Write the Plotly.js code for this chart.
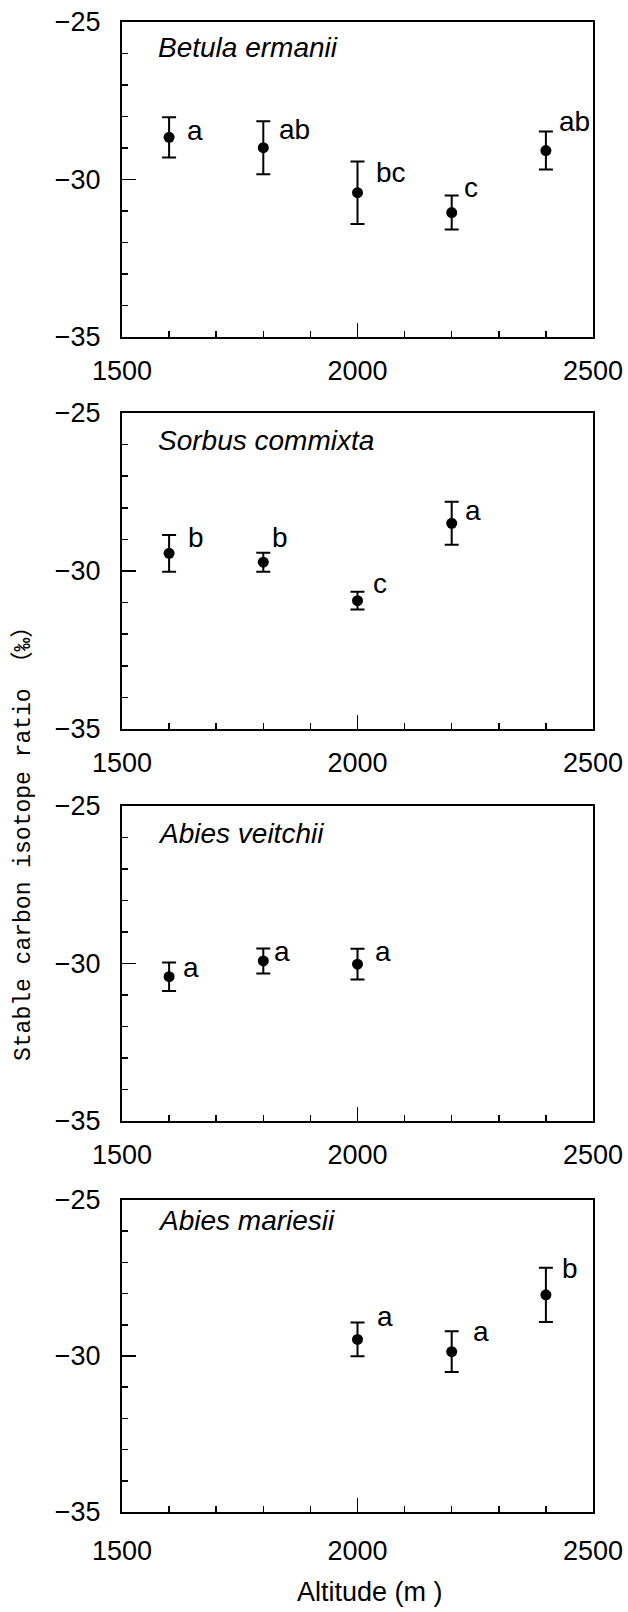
<!DOCTYPE html>
<html><head><meta charset="utf-8">
<script src="https://cdn.plot.ly/plotly-3.0.1.min.js"></script>
<style>html,body{margin:0;padding:0;background:#fff}</style>
</head><body><div id="chart" style="width:628px;height:1612px"></div>
<script>
// ---- data ----
const speciesNames = ['Betula ermanii', 'Sorbus commixta', 'Abies veitchii', 'Abies mariesii'];

const betulaAlt = [1600, 1800, 2000, 2200, 2400];
const betulaMean = [-28.66, -28.99, -30.42, -31.05, -29.08];
const betulaErr = [0.64, 0.84, 0.99, 0.54, 0.60];
const betulaLetters = ['a', 'ab', 'bc', 'c', 'ab'];
const betulaLetterX = [1655, 1867, 2071, 2241, 2460];
const betulaLetterY = [-28.44, -28.40, -29.79, -30.24, -28.17];

const sorbusAlt = [1600, 1800, 2000, 2200];
const sorbusMean = [-29.44, -29.72, -30.94, -28.49];
const sorbusErr = [0.58, 0.30, 0.28, 0.68];
const sorbusLetters = ['b', 'b', 'c', 'a'];
const sorbusLetterX = [1657, 1835, 2048, 2245];
const sorbusLetterY = [-28.93, -28.93, -30.41, -28.07];

const veitchiiAlt = [1600, 1800, 2000];
const veitchiiMean = [-30.42, -29.92, -30.02];
const veitchiiErr = [0.45, 0.40, 0.49];
const veitchiiLetters = ['a', 'a', 'a'];
const veitchiiLetterX = [1647, 1840, 2054];
const veitchiiLetterY = [-30.14, -29.63, -29.63];

const mariesiiAlt = [2000, 2200, 2400];
const mariesiiMean = [-29.47, -29.86, -28.04];
const mariesiiErr = [0.54, 0.65, 0.87];
const mariesiiLetters = ['a', 'a', 'b'];
const mariesiiLetterX = [2058, 2262, 2451];
const mariesiiLetterY = [-28.74, -29.22, -27.19];

const xTickVals = [1500, 2000, 2500];
const yTickVals = [-35, -30, -25];

const yTitle = 'Stable carbon isotope ratio （‰）';
const xTitle = 'Altitude (m )';

// ---- layout helpers ----
const W = 628, H = 1612;
const plotLeft = 122, plotRight = 593;
const panelTops = [22, 413, 806, 1200];
const panelBottoms = [337, 729, 1121, 1512];
const namePos = [48, 440, 833, 1220];
const xLabelStandoff = [9, 9, 9, 14];

const panels = [
  {alt: betulaAlt, mean: betulaMean, err: betulaErr, letters: betulaLetters, lx: betulaLetterX, ly: betulaLetterY},
  {alt: sorbusAlt, mean: sorbusMean, err: sorbusErr, letters: sorbusLetters, lx: sorbusLetterX, ly: sorbusLetterY},
  {alt: veitchiiAlt, mean: veitchiiMean, err: veitchiiErr, letters: veitchiiLetters, lx: veitchiiLetterX, ly: veitchiiLetterY},
  {alt: mariesiiAlt, mean: mariesiiMean, err: mariesiiErr, letters: mariesiiLetters, lx: mariesiiLetterX, ly: mariesiiLetterY}
];

const FONT = 'Liberation Sans, Arial, sans-serif';
const traces = [];
const annotations = [];
const layout = {
  width: W, height: H,
  margin: {l: 0, r: 0, t: 0, b: 0},
  paper_bgcolor: '#fff', plot_bgcolor: '#fff',
  showlegend: false,
  font: {family: FONT, color: '#000', size: 27},
  annotations: annotations
};

panels.forEach((p, i) => {
  const n = i + 1;
  const xa = 'x' + (n === 1 ? '' : n), ya = 'y' + (n === 1 ? '' : n);
  traces.push({
    type: 'scatter', mode: 'markers',
    x: p.alt, y: p.mean,
    xaxis: xa, yaxis: ya,
    marker: {color: '#000', size: 11},
    error_y: {type: 'data', array: p.err, visible: true, color: '#000', thickness: 2, width: 7},
    cliponaxis: false
  });
  layout['xaxis' + (n === 1 ? '' : n)] = {
    domain: [plotLeft / W, plotRight / W],
    anchor: ya,
    range: [1500, 2500],
    tickmode: 'array', tickvals: xTickVals, ticktext: xTickVals.map(String),
    ticks: 'inside', ticklen: 14, tickwidth: 1.5, tickcolor: '#000',
    minor: {dtick: 100, tick0: 1500, ticks: 'inside', ticklen: 6, tickwidth: 1.5, tickcolor: '#000'},
    showline: true, mirror: true, linecolor: '#000', linewidth: 2,
    showgrid: false, zeroline: false,
    ticklabelstandoff: xLabelStandoff[i],
    tickfont: {family: FONT, size: 27, color: '#000'}
  };
  layout['yaxis' + (n === 1 ? '' : n)] = {
    domain: [1 - panelBottoms[i] / H, 1 - panelTops[i] / H],
    anchor: xa,
    range: [-35, -25],
    tickmode: 'array', tickvals: yTickVals,
    ticks: 'inside', ticklen: 14, tickwidth: 1.5, tickcolor: '#000',
    minor: {dtick: 1, tick0: -35, ticks: 'inside', ticklen: 6, tickwidth: 1.5, tickcolor: '#000'},
    showline: true, mirror: true, linecolor: '#000', linewidth: 2,
    showgrid: false, zeroline: false,
    ticklabelstandoff: 14,
    tickfont: {family: FONT, size: 27, color: '#000'}
  };
  annotations.push({
    xref: 'paper', yref: 'paper',
    x: 156 / W, y: 1 - namePos[i] / H,
    xanchor: 'left', yanchor: 'middle',
    text: '<i>' + speciesNames[i] + '</i>', showarrow: false,
    font: {family: FONT, size: 28, color: '#000'}
  });
  p.letters.forEach((t, k) => {
    annotations.push({
      xref: xa, yref: ya, x: p.lx[k], y: p.ly[k],
      xanchor: 'center', yanchor: 'middle',
      text: t, showarrow: false,
      font: {family: FONT, size: 28, color: '#000'}
    });
  });
});

annotations.push({
  xref: 'paper', yref: 'paper', x: 23 / W, y: 1 - 838 / H,
  xanchor: 'center', yanchor: 'middle', textangle: -90,
  text: yTitle, showarrow: false,
  font: {family: 'Liberation Mono, Noto Sans CJK JP, monospace', size: 23, color: '#000'}
});
annotations.push({
  xref: 'paper', yref: 'paper', x: 370 / W, y: 1 - 1592 / H,
  xanchor: 'center', yanchor: 'middle',
  text: xTitle, showarrow: false,
  font: {family: FONT, size: 27, color: '#000'}
});

Plotly.newPlot('chart', traces, layout, {staticPlot: true, displayModeBar: false});
</script>
</body></html>
